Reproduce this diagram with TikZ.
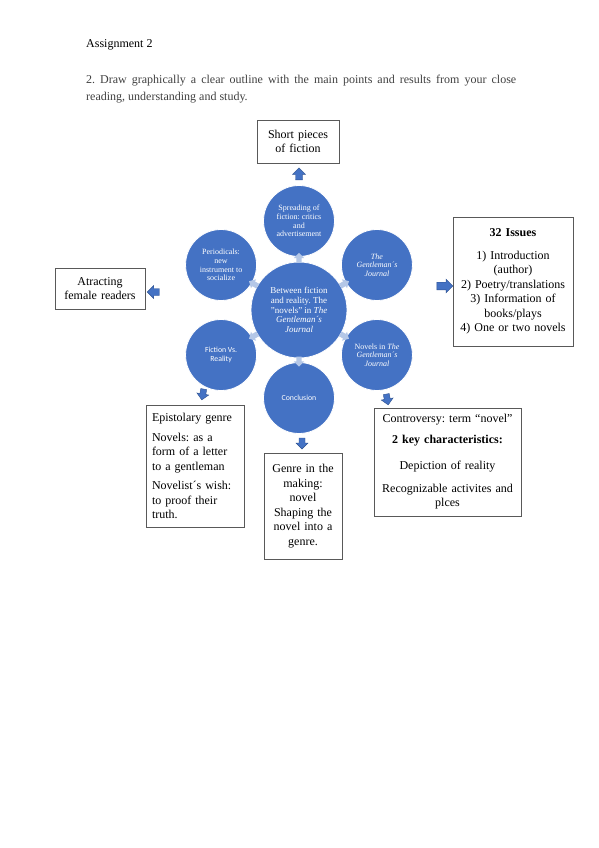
\documentclass[tikz,border=0pt]{standalone}
\usepackage{fontspec}
\setmainfont{Liberation Serif}
\newfontfamily\calibfont{Carlito}
\usetikzlibrary{shapes.arrows, positioning, calc}
\definecolor{bubblue}{RGB}{68,114,196}
\definecolor{arrowedge}{RGB}{47,82,143}
\definecolor{paleblue}{RGB}{180,199,231}
\definecolor{boxline}{RGB}{89,89,89}
\definecolor{parafg}{RGB}{64,64,64}
\frenchspacing
\tikzset{
  block/.style={rectangle,draw=boxline,line width=0.7pt,fill=white,align=center,
    inner sep=3pt,font=\fontsize{12}{14.5}\selectfont},
  bubble/.style={circle,fill=bubblue,draw=white,line width=0.8pt,minimum size=71pt,
    inner sep=0pt,text=white,align=center,font=\fontsize{8}{8.7}\selectfont},
  hub/.style={bubble,minimum size=96pt,font=\fontsize{9}{9.8}\selectfont},
  sansbubble/.style={bubble,font=\calibfont\fontsize{7.8}{9.5}\selectfont},
  bigarrow/.style={single arrow,fill=bubblue,draw=arrowedge,line width=0.4pt,
    minimum height=12pt,inner sep=3.3pt,single arrow head extend=3pt},
  palearrow/.style={single arrow,fill=paleblue,minimum height=10pt,inner sep=2.5pt,
    single arrow head extend=2.5pt}
}
\begin{document}
\begin{tikzpicture}[x=1pt,y=1pt]
  \useasboundingbox (0,0) rectangle (599,-848);
  % heading and task
  \node[anchor=base west,inner sep=0pt,font=\fontsize{12}{14}\selectfont] (title) at (86,-48) {Assignment 2};
  \node[anchor=north west,inner sep=0pt,text width=430pt,align=justify,text=parafg,
    font=\fontsize{12}{17.5}\selectfont] (task) at (86,-74.5)
    {2. Draw graphically a clear outline with the main points and results from your close\linebreak reading, understanding and study.};

  % circles
  \node[hub] (hub) at (299,-310) {Between fiction\\and reality. The\\"novels" in \textit{The}\\\textit{Gentleman´s}\\\textit{Journal}};
  \node[bubble] (spread) at ($(hub)+(90:89)$) {Spreading of\\fiction: critics\\and\\advertisement};
  \node[bubble,font=\itshape\fontsize{8}{8.7}\selectfont] (journal) at ($(hub)+(30:90)$) {The\\Gentleman´s\\Journal};
  \node[bubble] (novels) at ($(hub)+(-30:90)$) {Novels in \textit{The}\\\textit{Gentleman´s}\\\textit{Journal}};
  \node[sansbubble] (concl) at ($(hub)+(-90:88)$) {Conclusion};
  \node[sansbubble] (fiction) at ($(hub)+(210:90)$) {Fiction Vs.\\Reality};
  \node[bubble] (period) at ($(hub)+(150:90)$) {Periodicals:\\new\\instrument to\\socialize};

  % pale arrows hub -> circles
  \node[palearrow,rotate=90]  (pa1) at ($(hub)!0.57!(spread)$) {};
  \node[palearrow,rotate=30]  (pa2) at ($(hub)!0.57!(journal)$) {};
  \node[palearrow,rotate=-30] (pa3) at ($(hub)!0.57!(novels)$) {};
  \node[palearrow,rotate=-90] (pa4) at ($(hub)!0.57!(concl)$) {};
  \node[palearrow,rotate=210] (pa5) at ($(hub)!0.57!(fiction)$) {};
  \node[palearrow,rotate=150] (pa6) at ($(hub)!0.57!(period)$) {};

  % boxes
  \node[block,text width=76pt,minimum height=43pt] (short) at (298,-141.5) {Short pieces\\of fiction};
  \node[block,text width=114pt,minimum height=129pt] (issues) at (513,-281.5)
    {\textbf{32 Issues}\\[8pt]1) Introduction\\(author)\\2) Poetry/translations\\3) Information of\\books/plays\\4) One or two novels};
  \node[block,text width=84pt,minimum height=41pt] (female) at (100,-288.5) {Atracting\\female readers};
  \node[block,align=left,inner xsep=6pt,text width=86pt,minimum height=122pt] (epist) at (195,-466)
    {Epistolary genre\\[5pt]Novels: as a\\form of a letter\\to a gentleman\\[5pt]Novelist´s wish:\\to proof their\\truth.};
  \node[block,text width=72pt,minimum height=106pt] (genre) at (303,-506)
    {Genre in the\\making:\\novel\\Shaping the\\novel into a\\genre.};
  \node[block,text width=141pt,minimum height=108pt] (contro) at (447.5,-462)
    {Controversy: term “novel”\\[6pt]\textbf{2 key characteristics:}\\[12pt]Depiction of reality\\[8pt]Recognizable activites and\\plces};

  % block arrows
  \node[bigarrow,rotate=90] (upArr) at ($(spread.north)+(0,9.5)$) {};
  \node[bigarrow,minimum height=16pt,inner sep=3.6pt] (rightArr) at (443,-286) {};
  \node[bigarrow,rotate=180] (leftArr) at (155,-292) {};
  \node[bigarrow,rotate=-100,minimum height=11pt,inner sep=2.8pt] (fictArr) at (203,-393) {};
  \node[bigarrow,rotate=-90,minimum height=11pt,inner sep=2.8pt] (conclArr) at (302,-442) {};
  \node[bigarrow,rotate=-80,minimum height=11pt,inner sep=2.8pt] (novArr) at (387,-398) {};
\end{tikzpicture}
\end{document}
